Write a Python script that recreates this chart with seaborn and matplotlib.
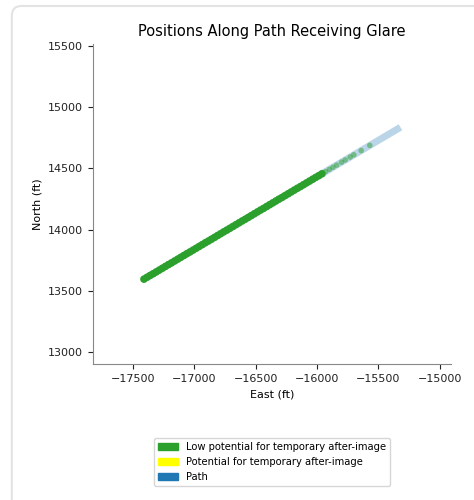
import pandas as pd
import matplotlib.pyplot as plt
import seaborn as sns
from matplotlib.patches import Patch, FancyBboxPatch

# path end points (east, north) in ft
path_east = [-17410, -15320]
path_north = [13595, 14835]

# positions receiving low-potential glare (dense stretch)
glare_east = [-17410, -17385, -17360, -17335, -17310, -17285, -17260, -17235,
              -17210, -17185, -17160, -17135, -17110, -17085, -17060, -17035,
              -17010, -16985, -16960, -16935, -16910, -16885, -16860, -16835,
              -16810, -16785, -16760, -16735, -16710, -16685, -16660, -16635,
              -16610, -16585, -16560, -16535, -16510, -16485, -16460, -16435,
              -16410, -16385, -16360, -16335, -16310, -16285, -16260, -16235,
              -16210, -16185, -16160, -16135, -16110, -16085, -16060, -16035,
              -16010, -15985, -15960]
glare_north = [13595, 13610, 13625, 13639, 13654, 13669, 13684, 13699,
               13714, 13728, 13743, 13758, 13773, 13788, 13803, 13817,
               13832, 13847, 13862, 13877, 13892, 13906, 13921, 13936,
               13951, 13966, 13981, 13995, 14010, 14025, 14040, 14055,
               14070, 14084, 14099, 14114, 14129, 14144, 14159, 14173,
               14188, 14203, 14218, 14233, 14248, 14262, 14277, 14292,
               14307, 14322, 14337, 14351, 14366, 14381, 14396, 14411,
               14426, 14440, 14455]

# scattered positions further along the path
sparse_east = [-15930, -15900, -15870, -15840, -15800, -15770, -15730, -15700,
               -15640, -15570]
sparse_north = [14473, 14491, 14508, 14526, 14550, 14568, 14592, 14610,
                14645, 14687]

legend_labels = ['Low potential for temporary after-image',
                 'Potential for temporary after-image',
                 'Path']
legend_colors = ['#2ca02c', '#ffff00', '#1f77b4']

path_df = pd.DataFrame({'East': path_east, 'North': path_north})
glare_df = pd.DataFrame({'East': glare_east, 'North': glare_north})
sparse_df = pd.DataFrame({'East': sparse_east, 'North': sparse_north})

fig = plt.figure(figsize=(4.74, 5.0), dpi=100)

# card border round the figure
card = FancyBboxPatch((0.025, -0.5), 1.2, 1.488, boxstyle='round,pad=0,rounding_size=0.02',
                      transform=fig.transFigure, facecolor='white',
                      edgecolor='#e3e3e3', linewidth=1.5, zorder=-10)
fig.patches.append(card)

ax = fig.add_axes([0.196, 0.272, 0.755, 0.640])
ax.patch.set_alpha(0)

sns.lineplot(data=path_df, x='East', y='North', sort=False, ax=ax,
             color='#1f77b4', alpha=0.3, linewidth=5, solid_capstyle='butt',
             zorder=1)
sns.scatterplot(data=glare_df, x='East', y='North', ax=ax,
                color='#2ca02c', alpha=1.0, s=30, edgecolor='none', zorder=3)
sns.scatterplot(data=sparse_df, x='East', y='North', ax=ax,
                color='#2ca02c', alpha=0.5, s=16, edgecolor='none', zorder=3)

ax.set_xlim(-17826, -14910)
ax.set_ylim(12902, 15515)
ax.set_xticks([-17500, -17000, -16500, -16000, -15500, -15000])
ax.set_yticks([13000, 13500, 14000, 14500, 15000, 15500])
ax.tick_params(labelsize=8, colors='#222222')
for s in ['left', 'bottom']:
    ax.spines[s].set_color('#888888')
sns.despine(ax=ax)

ax.set_title('Positions Along Path Receiving Glare', fontsize=10.5)
ax.set_xlabel('East (ft)', fontsize=8)
ax.set_ylabel('North (ft)', fontsize=8)

handles = [Patch(color=c, label=l) for c, l in zip(legend_colors, legend_labels)]
fig.legend(handles=handles, loc='upper center', bbox_to_anchor=(0.574, 0.134),
           fontsize=7.2, frameon=True, edgecolor='#cccccc')

fig.savefig('out.png', dpi=100)
